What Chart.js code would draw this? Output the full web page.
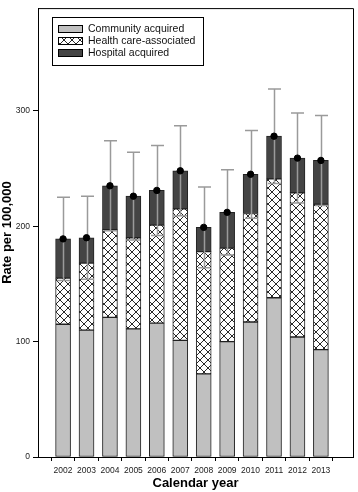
<!DOCTYPE html>
<html>
<head>
<meta charset="utf-8">
<script src="https://cdn.jsdelivr.net/npm/chart.js@4.4.0/dist/chart.umd.min.js"></script>
<style>
  html, body { margin: 0; padding: 0; background: #fff; }
</style>
</head>
<body>
<canvas id="myChart" width="358" height="492"></canvas>
<script>
// data
const years = [2002, 2003, 2004, 2005, 2006, 2007, 2008, 2009, 2010, 2011, 2012, 2013];
const community = [115, 110, 121, 111, 116, 101, 72, 100, 117, 138, 104, 93];
const healthCare = [40, 58, 76, 79, 85, 114, 106, 81, 94, 103, 125, 126];
const hospital = [34, 22, 38, 36, 30, 33, 21, 31, 34, 37, 30, 38];
const totalError = [36, 36, 39, 38, 39, 39, 35, 37, 38, 41, 39, 39];
const yTicks = [0, 100, 200, 300];
const seriesNames = ['Community acquired', 'Health care-associated', 'Hospital acquired'];

const totals = years.map((_, i) => community[i] + healthCare[i] + hospital[i]);

// crosshatch fill
function makeHatch() {
  const c = document.createElement('canvas');
  c.width = 8; c.height = 8;
  const g = c.getContext('2d');
  g.fillStyle = '#fff';
  g.fillRect(0, 0, 8, 8);
  g.strokeStyle = '#111';
  g.lineWidth = 0.9;
  g.beginPath();
  g.moveTo(0, 0); g.lineTo(8, 8);
  g.moveTo(0, 8); g.lineTo(8, 0);
  g.stroke();
  return g.createPattern(c, 'repeat');
}
const ctx = document.getElementById('myChart');
const hatch = makeHatch();

const fills = ['#c0c0c0', hatch, '#444444'];
const FONT = '"Liberation Sans", Arial, sans-serif';

const pts = arr => years.map((y, i) => ({ x: y, y: arr[i] }));

// error bars under the dots
const errorBars = {
  id: 'errorBars',
  beforeDatasetDraw(chart, args) {
    if (args.index !== 3) return;
    const g = chart.ctx, xs = chart.scales.x, ys = chart.scales.y;
    g.save();
    g.strokeStyle = '#9a9a9a';
    g.lineWidth = 1.5;
    years.forEach((yr, i) => {
      const x = Math.round(xs.getPixelForValue(yr)) + 0.5;
      const hi = ys.getPixelForValue(totals[i] + totalError[i]);
      const lo = ys.getPixelForValue(totals[i] - totalError[i]);
      g.beginPath();
      g.moveTo(x, hi); g.lineTo(x, lo);
      g.moveTo(x - 6.5, hi); g.lineTo(x + 6.5, hi);
      g.moveTo(x - 6.5, lo); g.lineTo(x + 6.5, lo);
      g.stroke();
    });
    g.restore();
  }
};

// frame + legend box
const frameLegend = {
  id: 'frameLegend',
  afterDraw(chart) {
    const g = chart.ctx, a = chart.chartArea;
    g.save();
    g.strokeStyle = '#000';
    g.lineWidth = 1;
    g.beginPath();
    g.moveTo(a.left, a.top + 0.5); g.lineTo(a.right + 0.5, a.top + 0.5);
    g.lineTo(a.right + 0.5, a.bottom);
    g.stroke();

    g.fillStyle = '#fff';
    g.fillRect(52.5, 17.5, 151, 48);
    g.strokeRect(52.5, 17.5, 151, 48);
    g.font = '10.5px ' + FONT;
    g.textBaseline = 'middle';
    seriesNames.forEach((name, i) => {
      const y = 29 + i * 12;
      g.fillStyle = fills[i];
      g.fillRect(58.5, y - 3.5, 24, 7);
      g.strokeStyle = '#000';
      g.strokeRect(58.5, y - 3.5, 24, 7);
      g.fillStyle = '#111';
      g.fillText(name, 88, y + 0.5);
    });
    g.restore();
  }
};

const barSet = (label, arr, i) => ({
  type: 'bar',
  label: label,
  data: pts(arr),
  backgroundColor: fills[i],
  borderColor: '#222',
  borderWidth: 1,
  borderSkipped: false,
  barThickness: 15,
  stack: 'bars',
  order: 1
});

const myChart = new Chart(ctx, {
  type: 'bar',
  data: {
    datasets: [
      barSet(seriesNames[0], community, 0),
      barSet(seriesNames[1], healthCare, 1),
      barSet(seriesNames[2], hospital, 2),
      {
        type: 'line',
        label: 'Total',
        data: pts(totals),
        showLine: false,
        pointRadius: 3.2,
        pointBackgroundColor: '#000',
        pointBorderColor: '#000',
        stack: 'dots',
        order: 0
      }
    ]
  },
  options: {
    responsive: false,
    animation: false,
    layout: { padding: { top: 2, right: 5, left: 0, bottom: 0 } },
    plugins: {
      legend: { display: false },
      tooltip: { enabled: false }
    },
    scales: {
      x: {
        type: 'linear',
        stacked: true,
        min: 2000.93,
        max: 2014.37,
        offset: false,
        afterBuildTicks: axis => { axis.ticks = years.map(v => ({ value: v })); },
        afterFit: axis => { axis.height = 35; },
        grid: { drawOnChartArea: false, drawTicks: true, tickLength: 4, color: '#000' },
        border: { display: true, color: '#000' },
        ticks: {
          autoSkip: false,
          maxRotation: 0,
          padding: 5,
          color: '#222',
          font: { family: FONT, size: 8.5 },
          callback: v => String(v)
        },
        title: {
          display: true,
          text: 'Calendar year',
          color: '#000',
          font: { family: FONT, size: 13, weight: 'bold' },
          padding: { top: 0, bottom: 1 }
        }
      },
      y: {
        stacked: true,
        min: 0,
        max: 389,
        afterBuildTicks: axis => { axis.ticks = yTicks.map(v => ({ value: v })); },
        afterFit: axis => { axis.width = 38; },
        grid: { drawOnChartArea: false, drawTicks: true, tickLength: 5, color: '#000' },
        border: { display: true, color: '#000' },
        ticks: {
          padding: 3,
          color: '#222',
          font: { family: FONT, size: 8.5 }
        },
        title: {
          display: true,
          text: 'Rate per 100,000',
          color: '#000',
          font: { family: FONT, size: 13, weight: 'bold' },
          padding: { top: 0, bottom: 0 }
        }
      }
    }
  },
  plugins: [errorBars, frameLegend]
});
</script>
</body>
</html>
